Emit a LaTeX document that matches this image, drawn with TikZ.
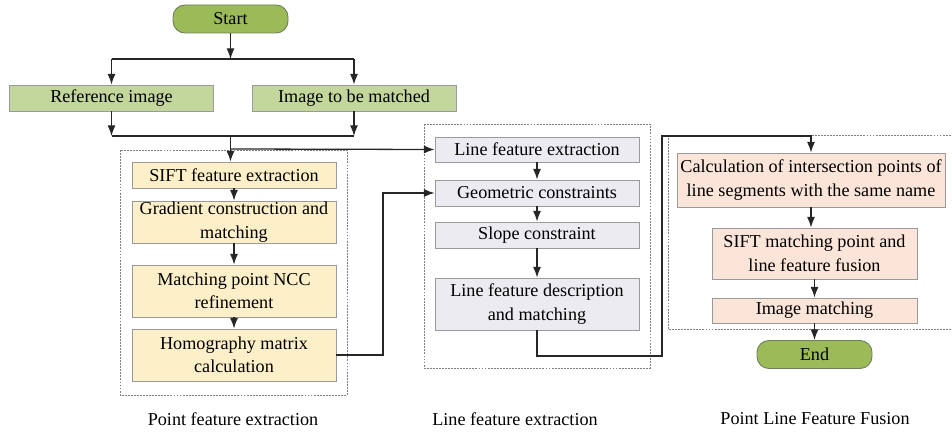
\documentclass[tikz,border=0pt]{standalone}
\usepackage{fontspec}
\setmainfont{Liberation Serif}
\usetikzlibrary{calc,positioning,arrows.meta}
\newcommand{\flowarrowstyle}{-{Latex[length=3.2mm,width=2.4mm]}}
\definecolor{termfill}{HTML}{9BBB59}
\definecolor{termline}{HTML}{6F7F5A}
\definecolor{srcfill}{HTML}{C3D69B}
\definecolor{ptfill}{HTML}{FDF0C8}
\definecolor{lnfill}{HTML}{EBEBF1}
\definecolor{fusefill}{HTML}{FBE5D8}
\definecolor{boxline}{HTML}{9A9A9A}
\definecolor{wire}{HTML}{262626}

\begin{document}
\begin{tikzpicture}[
    x=0.03cm, y=-0.03cm,
    font=\fontsize{15.5}{20}\selectfont,
    flow/.style={\flowarrowstyle, line width=1.1pt, draw=wire},
    wireline/.style={line width=1.1pt, draw=wire},
    termbox/.style={draw=termline, fill=termfill, rounded corners=3.6mm, line width=0.8pt, minimum width=115*0.03cm, minimum height=28*0.03cm, inner sep=0pt},
    srcbox/.style={draw=boxline, fill=srcfill, line width=0.7pt, minimum width=204*0.03cm, minimum height=26*0.03cm, inner sep=0pt},
    ptbox/.style={draw=boxline, fill=ptfill, line width=0.7pt, minimum width=204*0.03cm, align=center, inner sep=0pt},
    lnbox/.style={draw=boxline, fill=lnfill, line width=0.7pt, minimum width=204*0.03cm, align=center, inner sep=0pt},
    fusebox/.style={draw=boxline, fill=fusefill, line width=0.7pt, align=center, inner sep=0pt},
    stageframe/.style={draw=gray, dash pattern=on 1.6pt off 1pt, line width=0.8pt},
    stagetxt/.style={inner sep=0pt}
]
  \useasboundingbox (0,0) rectangle (952,432);

  % stage frames
  \draw[stageframe] (120,150) rectangle (347,395);
  \draw[stageframe] (424,124) rectangle (650,368);
  \draw[stageframe] (668,135) rectangle (958,329);

  % inputs
  \node[termbox] (start) at (230.5,19) {Start};
  \node[srcbox] (refimg) at (111.5,98) {Reference image};
  \node[srcbox] (matchimg) at (354,98) {Image to be matched};

  % point feature extraction
  \node[ptbox, minimum height=26*0.03cm] (pt-0) at (234,175) {SIFT feature extraction};
  \node[ptbox, minimum height=42*0.03cm] (pt-1) at (234,222) {Gradient construction and\\ matching};
  \node[ptbox, minimum height=52*0.03cm] (pt-2) at (234,291) {Matching point NCC\\ refinement};
  \node[ptbox, minimum height=52*0.03cm] (pt-3) at (234,355) {Homography matrix\\ calculation};

  % line feature extraction
  \node[lnbox, minimum height=25*0.03cm] (ln-0) at (537,149.5) {Line feature extraction};
  \node[lnbox, minimum height=26*0.03cm] (ln-1) at (537,193) {Geometric constraints};
  \node[lnbox, minimum height=26*0.03cm] (ln-2) at (537,235) {Slope constraint};
  \node[lnbox, minimum height=52*0.03cm] (ln-3) at (537,304) {Line feature description\\ and matching};

  % point line fusion
  \node[fusebox, minimum width=268*0.03cm, minimum height=54*0.03cm] (fuse-0) at (811,180)
    {Calculation of intersection points of\\ line segments with the same name};
  \node[fusebox, minimum width=205*0.03cm, minimum height=51*0.03cm] (fuse-1) at (814.5,253.5)
    {SIFT matching point and\\ line feature fusion};
  \node[fusebox, minimum width=205*0.03cm, minimum height=25*0.03cm] (fuse-2) at (814.5,310.5) {Image matching};
  \node[termbox] (end) at (814.5,354.5) {End};

  % stage captions
  \node[stagetxt] (cap-pt) at (233,419) {Point feature extraction};
  \node[stagetxt] (cap-ln) at (515,419) {Line feature extraction};
  \node[stagetxt] (cap-fuse) at (815,419) {Point Line Feature Fusion};

  % split and merge
  \coordinate (split) at (start.south |- 0,59);
  \coordinate (merge) at (start.south |- 0,136);
  \coordinate (tap) at (start.south |- 0,149);
  \draw[flow] (start.south) -- (split);
  \draw[wireline] (refimg.north |- split) -- (matchimg.north |- split);
  \draw[flow] (refimg.north |- split) -- (refimg.north);
  \draw[flow] (matchimg.north |- split) -- (matchimg.north);
  \draw[flow] (refimg.south) -- (refimg.south |- merge);
  \draw[flow] (matchimg.south) -- (matchimg.south |- merge);
  \draw[wireline] (refimg.south |- merge) -- (matchimg.south |- merge);
  \draw[flow] (merge) -- (merge |- pt-0.north);
  \draw[flow] (tap) -- (ln-0.west);

  % inside the stages
  \foreach \a/\b in {0/1,1/2,2/3} {
    \draw[flow] (pt-\a.south) -- (pt-\b.north);
    \draw[flow] (ln-\a.south) -- (ln-\b.north);
  }
  \draw[flow] (fuse-0.south) -- (fuse-0.south |- fuse-1.north);
  \draw[flow] (fuse-1.south) -- (fuse-2.north);
  \draw[flow] (fuse-2.south) -- (end.north);

  % between the stages
  \coordinate (hop-0) at (383,355);
  \draw[flow] (pt-3.east) -- (hop-0) |- (ln-1.west);
  \coordinate (hop-1) at (537,356);
  \coordinate (hop-2) at (662,356);
  \coordinate (hop-3) at (662,136);
  \draw[flow] (ln-3.south) -- (hop-1) -- (hop-2) -- (hop-3) -| (fuse-0.north);
\end{tikzpicture}
\end{document}
